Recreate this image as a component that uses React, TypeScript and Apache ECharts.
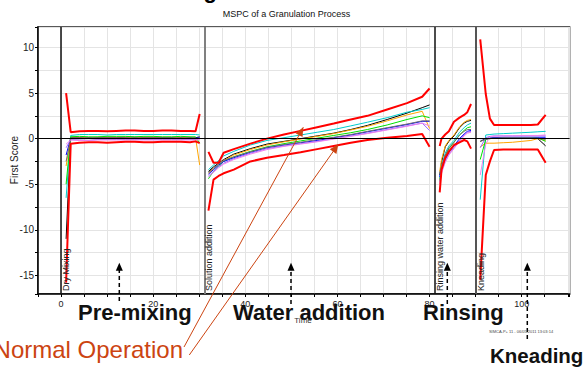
import React, { useEffect, useRef } from "react";
import * as echarts from "echarts";

// ---------- data ----------
const dryTime = [1.1, 2.1, 4, 6, 8, 10, 12, 14, 16, 18, 20, 22, 24, 26, 28, 29.2, 30.1];
const solutionTime = [32.0, 33.1, 34.2, 35.3, 37.5, 41.1, 44.7, 48.4, 52.0, 55.6, 59.2, 62.9, 66.5, 70.8, 75.1, 78.4, 80.0];
const rinseTime = [82.2, 82.6, 83.4, 84.2, 85.3, 86.5, 87.5, 88.2, 89.0];
const kneadTime = [91.0, 92.2, 93.1, 94.0, 96.0, 98.0, 100.0, 102.0, 103.5, 105.2];

// control limits (dry | solution | rinse | knead)
const upperLimit = [
  5.0, 0.7, 0.8, 0.85, 0.85, 0.8, 0.85, 0.9, 0.9, 0.85, 0.85, 0.9, 0.9, 0.85, 0.85, 0.8, 2.7,
  -1.45, -2.65, -2.65, -1.55, -1.15, -0.55, 0.0, 0.45, 0.85, 1.25, 1.65, 2.1, 2.5, 3.2, 3.9, 4.6, 5.5,
  -0.8, 0.0, 0.45, 0.8, 1.85, 2.3, 2.6, 2.9, 3.8,
  10.9, 4.9, 2.2, 1.5, 1.5, 1.5, 1.5, 1.5, 1.55, 2.6,
];
const lowerLimit = [
  -15.8, -0.55, -0.45, -0.4, -0.4, -0.45, -0.4, -0.35, -0.35, -0.4, -0.4, -0.35, -0.35, -0.35, -0.4, -0.3, -0.5,
  -7.9, -4.5, -4.1, -3.8, -3.4, -2.5, -2.1, -1.8, -1.5, -1.15, -0.8, -0.45, -0.15, 0.1, 0.3, 0.5, -0.9,
  -5.9, -3.4, -2.1, -1.4, -0.7, -0.4, -0.15, -0.3, -1.1,
  -15.5, -4.0, -2.5, -1.25, -1.2, -1.2, -1.2, -1.2, -1.2, -2.65,
];

// batch first scores
const batchBlack = [
  -11.0, 0.1, 0.1, 0.1, 0.1, 0.1, 0.1, 0.15, 0.15, 0.1, 0.1, 0.1, 0.1, 0.1, 0.1, 0.1, 0.2,
  -3.6, -3.1, -2.7, -2.3, -1.7, -1.1, -0.6, -0.3, 0.0, 0.3, 0.6, 1.0, 1.45, 2.1, 2.8, 3.4, 3.7,
  -4.0, -2.6, -0.9, -0.3, 0.3, 1.2, 1.7, 1.9, 2.0,
  -0.3, 0.0, 0.05, 0.05, 0.05, 0.05, 0.05, 0.05, 0.0, -0.8,
];
const batchCyan = [
  -6.5, 0.35, 0.45, 0.45, 0.45, 0.4, 0.45, 0.45, 0.45, 0.45, 0.45, 0.45, 0.45, 0.45, 0.45, 0.45, 0.4,
  -3.4, -2.9, -2.4, -1.9, -1.4, -0.7, -0.2, 0.1, 0.4, 0.7, 1.0, 1.4, 1.8, 2.3, 2.9, 3.2, 3.4,
  -4.4, -3.0, -1.6, -0.8, -0.2, 0.7, 1.2, 1.5, 1.7,
  -6.7, 0.4, 0.45, 0.5, 0.55, 0.6, 0.65, 0.7, 0.75, 0.8,
];
const batchOrange = [
  -3.0, 0.15, 0.15, 0.1, 0.15, 0.15, 0.15, 0.15, 0.1, 0.15, 0.15, 0.15, 0.15, 0.1, 0.15, 0.1, -2.9,
  -3.8, -3.3, -2.8, -2.4, -1.8, -1.2, -0.7, -0.35, -0.05, 0.25, 0.55, 0.95, 1.35, 1.95, 2.6, 3.0, 1.1,
  -3.6, -2.3, -0.8, -0.2, 0.4, 1.3, 1.8, 2.0, 2.1,
  -0.9, -0.5, -0.5, -0.5, -0.45, -0.4, -0.3, -0.2, 0.0, -0.2,
];
const batchGreen = [
  -5.0, 0.2, 0.25, 0.2, 0.2, 0.25, 0.25, 0.25, 0.2, 0.25, 0.25, 0.2, 0.2, 0.25, 0.2, 0.2, -0.5,
  -4.4, -3.6, -3.0, -2.5, -2.0, -1.4, -0.9, -0.55, -0.25, 0.05, 0.35, 0.65, 1.0, 1.5, 2.1, 2.5, 2.3,
  -4.6, -3.4, -2.0, -1.1, -0.4, 0.4, 0.9, 1.2, 1.3,
  -2.3, -0.1, 0.0, 0.05, 0.1, 0.1, 0.1, 0.1, 0.1, -0.3,
];
const batchBlue = [
  -1.8, 0.05, 0.05, 0.05, 0.05, 0.05, 0.05, 0.05, 0.05, 0.05, 0.05, 0.05, 0.05, 0.05, 0.05, 0.05, 0.1,
  -3.9, -3.4, -2.9, -2.5, -2.1, -1.5, -1.0, -0.7, -0.45, -0.2, 0.1, 0.4, 0.75, 1.15, 1.55, 1.9, 1.9,
  -4.2, -3.3, -2.3, -1.5, -0.8, 0.0, 0.5, 0.8, 0.9,
  0.0, 0.0, 0.05, 0.1, 0.15, 0.15, 0.15, 0.15, 0.15, 0.15,
];
const batchViolet = [
  -1.0, -0.1, -0.15, -0.2, -0.1, -0.1, -0.1, -0.1, -0.1, -0.1, -0.1, -0.1, -0.1, -0.1, -0.1, -0.1, 0.0,
  -4.1, -3.6, -3.1, -2.7, -2.2, -1.6, -1.1, -0.8, -0.55, -0.3, 0.0, 0.3, 0.6, 1.0, 1.4, 1.7, 0.9,
  -4.8, -3.6, -2.5, -1.7, -1.0, -0.2, 0.4, 0.7, 0.8,
  -1.0, 0.1, 0.25, 0.3, 0.3, 0.3, 0.3, 0.3, 0.3, 0.3,
];
const batchGray = [
  -2.5, 0.0, 0.0, 0.0, 0.0, 0.0, 0.0, 0.0, 0.0, 0.0, 0.0, 0.0, 0.0, 0.0, 0.0, 0.0, 0.05,
  -3.7, -3.2, -2.8, -2.4, -2.0, -1.45, -0.95, -0.65, -0.4, -0.1, 0.15, 0.45, 0.8, 1.2, 1.6, 1.95, 1.95,
  -3.9, -3.0, -1.8, -1.0, -0.4, 0.4, 0.8, 1.0, 1.0,
  -0.3, -0.1, 0.0, 0.05, 0.1, 0.1, 0.1, 0.1, 0.05, -0.1,
];
const batchPink = [
  -0.6, -0.15, -0.2, -0.2, -0.15, -0.15, -0.15, -0.15, -0.15, -0.15, -0.15, -0.15, -0.15, -0.15, -0.15, -0.15, -0.1,
  -4.2, -3.7, -3.2, -2.8, -2.3, -1.7, -1.2, -0.85, -0.6, -0.35, -0.05, 0.25, 0.55, 0.95, 1.35, 1.7, 1.4,
  -5.0, -3.8, -2.6, -1.8, -1.1, -0.3, 0.3, 0.6, 0.7,
  -4.0, -0.6, 0.2, 0.25, 0.3, 0.3, 0.35, 0.35, 0.35, 0.4,
];

const phaseBounds = [0, 31.1, 81.2, 90.1];
const phaseNames = ["Dry Mixing", "Solution addition", "Rinsing water addition", "Kneading"];
const yTickValues = [10, 5, 0, -5, -10, -15];
const xTickValues = [0, 20, 40, 60, 80, 100];

const FONT = "'Liberation Sans', Arial, Helvetica, sans-serif";

function arrowHead(x1: number, y1: number, x2: number, y2: number, len: number, half: number) {
  const dx = x2 - x1;
  const dy = y2 - y1;
  const d = Math.sqrt(dx * dx + dy * dy);
  const ux = dx / d;
  const uy = dy / d;
  const bx = x2 - ux * len;
  const by = y2 - uy * len;
  return [
    [x2, y2],
    [bx - uy * half, by + ux * half],
    [bx + uy * half, by - ux * half],
  ];
}

export default function App() {
  const ref = useRef<HTMLDivElement>(null);

  useEffect(() => {
    const el = ref.current!;
    const chart = echarts.init(el, null, { renderer: "svg" });
    const times = [dryTime, solutionTime, rinseTime, kneadTime];
    const build = (vals: number[]) => {
      const out: any[] = [];
      let k = 0;
      times.forEach((ts, p) => {
        if (p > 0) out.push([ts[0] - 0.5, null]);
        ts.forEach((t) => {
          out.push([t, vals[k++]]);
        });
      });
      return out;
    };

    const batches = [
      { name: "B1", color: "#000000", values: batchBlack },
      { name: "B2", color: "#00cccc", values: batchCyan },
      { name: "B3", color: "#ffa500", values: batchOrange },
      { name: "B4", color: "#00e000", values: batchGreen },
      { name: "B5", color: "#0000ff", values: batchBlue },
      { name: "B6", color: "#9966ff", values: batchViolet },
      { name: "B7", color: "#707070", values: batchGray },
      { name: "B8", color: "#ee82ee", values: batchPink },
    ];

    const yMin = -17.05;
    const yMax = 12.25;

    const series: any[] = batches.map((b) => ({
      type: "line",
      name: b.name,
      data: build(b.values),
      showSymbol: false,
      symbol: "none",
      connectNulls: false,
      lineStyle: { color: b.color, width: 1 },
      itemStyle: { color: b.color },
      z: 2,
      silent: true,
    }));
    series.push({
      type: "line",
      name: "Upper",
      data: build(upperLimit),
      showSymbol: false,
      symbol: "none",
      connectNulls: false,
      lineStyle: { color: "#ff0000", width: 2 },
      itemStyle: { color: "#ff0000" },
      z: 3,
      silent: true,
      markLine: {
        silent: true,
        symbol: ["none", "none"],
        label: { show: false },
        animation: false,
        data: [
          ...phaseBounds.map((v, i) => ({
            xAxis: v,
            lineStyle: {
              color: i === 1 ? "#808080" : i === 3 ? "#555555" : "#111111",
              width: i % 2 === 1 ? 2 : 1.5,
              type: "solid",
            },
          })),
          { yAxis: 0, lineStyle: { color: "#000000", width: 1, type: "solid" } },
        ],
      },
    });
    series.push({
      type: "line",
      name: "Lower",
      data: build(lowerLimit),
      showSymbol: false,
      symbol: "none",
      connectNulls: false,
      lineStyle: { color: "#ff0000", width: 2 },
      itemStyle: { color: "#ff0000" },
      z: 3,
      silent: true,
    });

    chart.setOption({
      animation: false,
      backgroundColor: "#ffffff",
      grid: {
        left: 38,
        right: 17.4,
        top: 27,
        bottom: 74,
        show: true,
        borderColor: "#222222",
        borderWidth: 1.5,
        backgroundColor: "transparent",
      },
      xAxis: {
        type: "value",
        min: -5,
        max: 110.4,
        interval: 5,
        axisLine: { show: true, onZero: false, lineStyle: { color: "#000", width: 1.5 } },
        axisTick: { show: true, length: 3, lineStyle: { color: "#000" } },
        axisLabel: {
          fontSize: 9,
          color: "#222",
          fontFamily: FONT,
          margin: 5,
          formatter: (v: number) => (xTickValues.includes(Math.round(v * 1000) / 1000) ? String(v) : ""),
        },
        splitLine: { show: true, lineStyle: { color: "#e4e4e4", width: 1 } },
      },
      yAxis: {
        type: "value",
        min: yMin,
        max: yMax,
        minInterval: 2.5,
        maxInterval: 2.5,
        axisLine: { show: true, onZero: false, lineStyle: { color: "#000", width: 1.5 } },
        axisTick: { show: true, length: 3, lineStyle: { color: "#000" } },
        axisLabel: {
          fontSize: 10,
          color: "#222",
          fontFamily: FONT,
          margin: 4,
          formatter: (v: number) => (yTickValues.includes(Math.round(v * 1000) / 1000) ? String(v) : ""),
        },
        splitLine: { show: true, lineStyle: { color: "#e4e4e4", width: 1 } },
      },
      series,
    });

    // annotations
    const toPx = (x: number, y: number) => chart.convertToPixel({ gridIndex: 0 }, [x, y]) as number[];
    const bottomPx = toPx(0, yMin)[1];
    const graphics: any[] = [];

    phaseBounds.forEach((b, i) => {
      const px = toPx(b, 0)[0];
      graphics.push({
        type: "text",
        x: px + 5,
        y: bottomPx - 3,
        rotation: Math.PI / 2,
        style: {
          text: phaseNames[i],
          fontSize: 9,
          fontFamily: FONT,
          fill: "#222",
          align: "left",
          verticalAlign: "middle",
        },
        z: 50,
      });
    });

    // titles & axis names (main title is cropped at the top edge, as in the reference)
    graphics.push({
      type: "text",
      x: 300,
      y: 1,
      style: {
        text: "Using Batch Control Charts",
        fontSize: 22,
        fontWeight: "bold",
        fontFamily: FONT,
        fill: "#000",
        align: "center",
        verticalAlign: "bottom",
      },
    });
    graphics.push({
      type: "text",
      x: 286.5,
      y: 14,
      style: {
        text: "MSPC of a Granulation Process",
        fontSize: 9,
        fontFamily: FONT,
        fill: "#111",
        align: "center",
        verticalAlign: "middle",
      },
    });
    graphics.push({
      type: "text",
      x: 14,
      y: 160,
      rotation: Math.PI / 2,
      style: {
        text: "First Score",
        fontSize: 10,
        fontFamily: FONT,
        fill: "#222",
        align: "center",
        verticalAlign: "middle",
      },
    });

    // big phase annotations
    const bigStyle = (text: string, size: number) => ({
      text,
      fontSize: size,
      fontWeight: "bold",
      fontFamily: FONT,
      fill: "#111",
      align: "left",
      verticalAlign: "middle",
    });
    graphics.push({ type: "text", x: 78, y: 312.5, style: bigStyle("Pre-mixing", 22), z: 60 });
    graphics.push({ type: "text", x: 233, y: 312.5, style: bigStyle("Water addition", 22), z: 60 });
    graphics.push({ type: "text", x: 423, y: 312.5, style: bigStyle("Rinsing", 22), z: 60 });
    graphics.push({ type: "text", x: 490, y: 355, style: bigStyle("Kneading", 20.5), z: 60 });

    graphics.push({
      type: "text",
      x: 303,
      y: 320.5,
      style: {
        text: "Time",
        fontSize: 8,
        fontFamily: FONT,
        fill: "#333",
        align: "center",
        verticalAlign: "middle",
      },
      z: 61,
    });

    graphics.push({
      type: "text",
      x: 521,
      y: 331,
      style: {
        text: "SIMCA-P+ 11 - 06/05/2011 13:03:14",
        fontSize: 4,
        fontFamily: FONT,
        fill: "#444",
        align: "center",
        verticalAlign: "middle",
      },
      z: 61,
    });

    // dashed up-arrows
    const dashArrows = [
      { x: 119.3, from: 301, tip: 262.7 },
      { x: 291, from: 304, tip: 262.7 },
      { x: 447.3, from: 304, tip: 262.7 },
      { x: 527.3, from: 339, tip: 262.7 },
    ];
    dashArrows.forEach((a) => {
      graphics.push({
        type: "line",
        shape: { x1: a.x, y1: a.from, x2: a.x, y2: a.tip + 7 },
        style: { stroke: "#000", lineWidth: 1.5, lineDash: [4, 3] },
        z: 55,
      });
      graphics.push({
        type: "polygon",
        shape: { points: arrowHead(a.x, a.from, a.x, a.tip, 8, 3.5) },
        style: { fill: "#000", stroke: "none" },
        z: 55,
      });
    });

    // "Normal Operation" with two orange arrows
    const orange = "#cc4411";
    graphics.push({
      type: "text",
      x: 183,
      y: 349,
      style: {
        text: "Normal Operation",
        fontSize: 24,
        fontFamily: FONT,
        fill: orange,
        align: "right",
        verticalAlign: "middle",
      },
      z: 60,
    });
    const orangeArrows = [
      { x1: 184, y1: 347, x2: 303.3, y2: 127.3 },
      { x1: 189.3, y1: 355, x2: 338.3, y2: 144.3 },
    ];
    orangeArrows.forEach((a) => {
      graphics.push({
        type: "line",
        shape: { x1: a.x1, y1: a.y1, x2: a.x2, y2: a.y2 },
        style: { stroke: orange, lineWidth: 1 },
        z: 56,
      });
      graphics.push({
        type: "polygon",
        shape: { points: arrowHead(a.x1, a.y1, a.x2, a.y2, 9, 4) },
        style: { fill: orange, stroke: "none" },
        z: 56,
      });
    });

    chart.setOption({ graphic: { elements: graphics } });

    return () => {
      chart.dispose();
    };
  }, []);

  return (
    <div
      ref={ref}
      style={{ position: "absolute", left: 0, top: 0, width: 587, height: 368, background: "#fff" }}
    />
  );
}
